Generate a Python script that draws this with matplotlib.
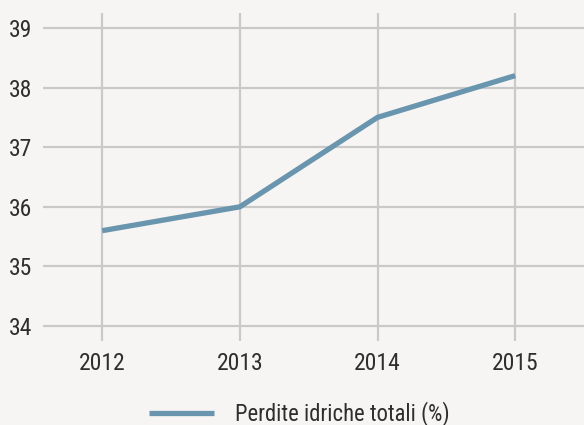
import matplotlib
matplotlib.use("Agg")
import matplotlib.pyplot as plt

years = [2012, 2013, 2014, 2015]
losses = [35.6, 36.0, 37.5, 38.2]
yticks = [34, 35, 36, 37, 38, 39]
series_label = "Perdite idriche totali (%)"

plt.rcParams["font.family"] = ["Roboto Condensed", "DejaVu Sans"]

bg = "#f6f5f3"
fig = plt.figure(figsize=(5.84, 4.25), dpi=100, facecolor=bg)
ax = fig.add_axes([43/584, 84/425, 541/584, 328/425], facecolor=bg)

ax.plot(years, losses, color="#6a95ae", lw=3.8, solid_capstyle="butt", zorder=3,
        label=series_label)

ax.set_xlim(2011.57, 2015.5)
ax.set_ylim(33.75, 39.25)
ax.set_xticks(years)
ax.set_xticklabels([str(y) for y in years])
ax.set_yticks(yticks)
ax.grid(True, color="#c9c9c9", lw=1.6, zorder=0)
for s in ax.spines.values():
    s.set_visible(False)
ax.tick_params(length=0, labelsize=17, colors="#2e2e2e")
ax.tick_params(axis="x", pad=8)
ax.tick_params(axis="y", pad=8)

fig.legend(loc="center", bbox_to_anchor=(0.512, 0.027), frameon=False,
           fontsize=16.3, handlelength=2.9, handletextpad=0.9, labelcolor="#2e2e2e")

fig.savefig("out.png", dpi=100, facecolor=bg)
